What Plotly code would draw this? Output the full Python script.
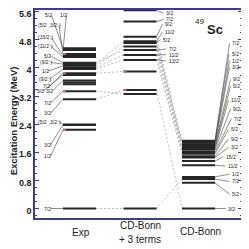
import plotly.graph_objects as go

# ---------------- data (MeV) ----------------
columns = ["Exp", "CD-Bonn<br>+ 3 terms", "CD-Bonn"]

exp_levels = [4.56, 4.51, 4.40, 4.35, 4.31, 4.15, 4.11, 4.06, 4.01, 3.97, 3.85,
              3.80, 3.64, 3.59, 3.54, 3.34, 3.11, 2.39, 2.38, 2.24, 0.0]
exp_spins = ["5/2⁻", "1/2⁻", "(5/2⁻,3/2⁻)", "(15/2⁻)", "(11/2⁻)", "5/2⁻", "(9/2⁻)",
             "1/2⁻", "", "(9/2⁻)", "7/2⁻", "5/2⁻", "3/2⁻", "", "", "7/2⁻", "3/2⁻",
             "(5/2⁻,3/2⁻)", "3/2⁻", "1/2⁻", "7/2⁻"]

cd3_levels = [5.64, 5.32, 4.89, 4.76, 4.71, 4.61, 4.51, 4.37, 4.23, 3.90, 3.37, 3.26, 0.0]
cd3_spins = ["3/2⁻", "7/2⁻", "9/2⁻", "11/2⁻", "5/2⁻", "", "7/2⁻", "11/2⁻", "13/2⁻",
             "", "", "", ""]

cd_levels = [1.93, 1.91, 1.87, 1.83, 1.79, 1.75, 1.71, 1.67, 1.61, 1.56, 1.49, 1.45,
             1.35, 1.23, 0.90, 0.84, 0.73, 0.0]
cd_spins = ["7/2⁻", "5/2⁻", "1/2⁻", "3/2⁻", "9/2⁻", "5/2⁻", "11/2⁻", "9/2⁻", "7/2⁻",
            "5/2⁻", "9/2⁻", "3/2⁻", "15/2⁻", "11/2⁻", "1/2⁻", "7/2⁻", "5/2⁻", "3/2⁻"]

# correspondences (index pairs) drawn as dashed lines
links_exp_cd3 = [(6, 3), (7, 5), (5, 6), (8, 7), (9, 8), (10, 9), (15, 11), (16, 10), (20, 12)]
links_cd3_cd = [(2, 0), (3, 2), (4, 3), (5, 5), (6, 6), (7, 8), (8, 9), (10, 17), (12, 15)]

# small red marks on some levels
exp_red = [4.40, 3.85, 3.34, 2.24]
cd3_red = [3.90, 3.37]

y_ticks = [0, 0.8, 1.6, 2.4, 3.2, 4.0, 4.8, 5.6]
y_ticktext = ["0", "0.8", "1.6", "2.4", "3.2", "4", "4.8", "5.6"]

# ---------------- layout positions (not data) ----------------
col_x = [79.5, 140.0, 198.5]
hw = 16.5
# label positions: (x-left, y in MeV); None for unlabeled levels
exp_lab_pos = [(43, 5.50), (58, 5.50), (36, 5.22), (36, 4.89), (36, 4.63), (42, 4.34),
               (38, 4.16), (40, 3.91), None, (37, 3.68), (41, 3.48), (35, 3.35),
               (44, 3.35), None, None, (42, 3.01), (42, 2.71), (36, 2.47), (42, 1.81),
               (42, 1.49), (42, 0.0)]
cd3_lab_pos = [(164, 5.56), (164, 5.38), (163, 5.25), (163, 5.02), (161, 4.81), None,
               (166.5, 4.54), (166.5, 4.38), (166.5, 4.20), None, None, None, None]
cd_lab_pos = [(230, 4.70), (229.5, 4.40), (230, 4.21), (230, 4.02), (231, 3.68),
              (231, 3.49), (229, 3.08), (231, 2.84), (232, 2.56), (229, 2.26),
              (229, 1.98), (229, 1.74), (224, 1.48), (226, 1.21), (230, 0.98),
              (230, 0.77), (230, 0.41), (226, 0.0)]

AXC = "#3b3b9c"
CHW = 2.05  # approx char width of label font, in x units
FONT = "Liberation Sans, Arial"


def seg_trace(levels, cx, color="#262626", width=2.0):
    xs, ys = [], []
    for e in levels:
        xs += [cx - hw, cx + hw, None]
        ys += [e, e, None]
    return go.Scatter(x=xs, y=ys, mode="lines", line=dict(color=color, width=width),
                      hoverinfo="skip", showlegend=False)


fig = go.Figure()

# label connector lines
lx, ly = [], []
for e, s, p in zip(exp_levels, exp_spins, exp_lab_pos):
    if p and s:
        lx += [p[0] + CHW * len(s) + 0.3, col_x[0] - hw, None]
        ly += [p[1], e, None]
for e, s, p in zip(cd3_levels, cd3_spins, cd3_lab_pos):
    if p and s:
        lx += [col_x[1] + hw, p[0] - 0.5, None]
        ly += [e, p[1], None]
for e, s, p in zip(cd_levels, cd_spins, cd_lab_pos):
    if p and s:
        lx += [col_x[2] + hw, p[0] - 0.5, None]
        ly += [e, p[1], None]
fig.add_trace(go.Scatter(x=lx, y=ly, mode="lines", line=dict(color="#444444", width=0.6),
                         hoverinfo="skip", showlegend=False))

# dashed correspondence lines
dx, dy = [], []
for i, j in links_exp_cd3:
    dx += [col_x[0] + hw, col_x[1] - hw, None]
    dy += [exp_levels[i], cd3_levels[j], None]
for i, j in links_cd3_cd:
    dx += [col_x[1] + hw, col_x[2] - hw, None]
    dy += [cd3_levels[i], cd_levels[j], None]
fig.add_trace(go.Scatter(x=dx, y=dy, mode="lines",
                         line=dict(color="#777777", width=0.5, dash="2px,2px"),
                         hoverinfo="skip", showlegend=False))

# level bars
fig.add_trace(seg_trace(exp_levels, col_x[0]))
fig.add_trace(seg_trace(cd3_levels, col_x[1]))
fig.add_trace(seg_trace(cd_levels, col_x[2]))

# red marks
rx, ry = [], []
for e in exp_red:
    rx += [col_x[0] - hw, col_x[0] - hw + 3, None]
    ry += [e, e, None]
for e in cd3_red:
    rx += [col_x[1] - hw, col_x[1] - hw + 3, None]
    ry += [e, e, None]
fig.add_trace(go.Scatter(x=rx, y=ry, mode="lines", line=dict(color="#d86a6a", width=2),
                         hoverinfo="skip", showlegend=False))

ann = []
lab_font = dict(family=FONT, size=5, color="#222222")
for s, p in zip(exp_spins + cd3_spins + cd_spins, exp_lab_pos + cd3_lab_pos + cd_lab_pos):
    if p and s:
        ann.append(dict(x=p[0], y=p[1], xref="x", yref="y", text=s, showarrow=False,
                        xanchor="left", yanchor="middle", font=lab_font))

# column names below axis
bottom_font = dict(family=FONT, size=10, color="#222222")
name_pos = [[(col_x[0] + 1.5, -0.069)],
            [(col_x[1], -0.035), (col_x[1], -0.103)],
            [(col_x[2] + 1.5, -0.064)]]
for name, poss in zip(columns, name_pos):
    for part, (px, py) in zip(name.split("<br>"), poss):
        ann.append(dict(x=px, y=py, xref="x", yref="paper", text=part,
                        showarrow=False, font=bottom_font, yanchor="middle"))

# nucleus label
ann.append(dict(x=199, y=0.944, xref="x", yref="paper", text="49", showarrow=False,
                font=dict(family=FONT, size=8, color="#222222"),
                xanchor="center", yanchor="middle"))
ann.append(dict(x=215, y=0.908, xref="x", yref="paper", text="<b>Sc</b>", showarrow=False,
                font=dict(family=FONT, size=13, color="#222222"),
                xanchor="center", yanchor="middle"))

# y title
ann.append(dict(x=-0.105, y=0.466, xref="paper", yref="paper",
                text="<b>Excitation Energy (MeV)</b>", showarrow=False, textangle=-90,
                font=dict(family=FONT, size=9.5, color="#222222"),
                xanchor="center", yanchor="middle"))

# page body has an 8px default margin -> figure is 241x241 with shifted margins
fig.update_layout(
    width=241, height=241,
    margin=dict(l=27, r=7, t=2, b=31, pad=0),
    paper_bgcolor="white", plot_bgcolor="white",
    showlegend=False,
    annotations=ann,
    xaxis=dict(range=[35, 242], showgrid=False, zeroline=False, showticklabels=False,
               ticks="", showline=True, linecolor=AXC, linewidth=1.5, mirror=True,
               automargin=False, fixedrange=True),
    yaxis=dict(range=[-0.27, 5.65], showgrid=False, zeroline=False,
               tickvals=y_ticks, ticktext=["<b>%s</b>" % t for t in y_ticktext],
               ticks="inside", ticklen=4, tickwidth=1.2, tickcolor=AXC,
               showline=True, linecolor=AXC, linewidth=1.5, mirror="ticks",
               tickfont=dict(family=FONT, size=9, color="#222222"),
               ticklabeloverflow="allow", ticklabelshift=2,
               minor=dict(tick0=0, dtick=0.2, ticks="inside", ticklen=2, tickcolor=AXC,
                          tickwidth=1, showgrid=False),
               automargin=False, fixedrange=True),
)

fig.write_html("out.html")
